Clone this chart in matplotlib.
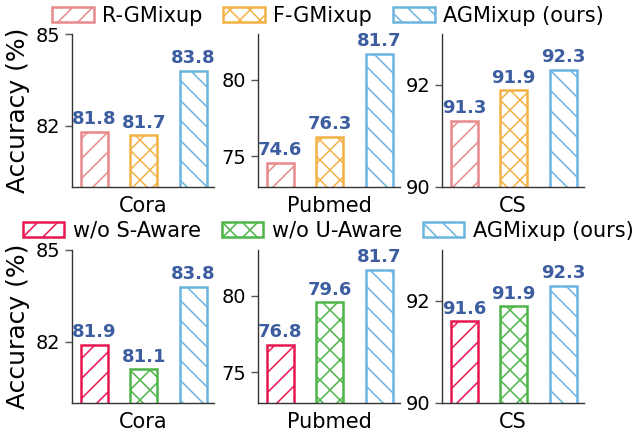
import matplotlib
matplotlib.use("Agg")
import matplotlib.pyplot as plt
import numpy as np

datasets = ["Cora", "Pubmed", "CS"]

top_methods = ["R-GMixup", "F-GMixup", "AGMixup (ours)"]
top_values = {
    "Cora": [81.8, 81.7, 83.8],
    "Pubmed": [74.6, 76.3, 81.7],
    "CS": [91.3, 91.9, 92.3],
}
bottom_methods = ["w/o S-Aware", "w/o U-Aware", "AGMixup (ours)"]
bottom_values = {
    "Cora": [81.9, 81.1, 83.8],
    "Pubmed": [76.8, 79.6, 81.7],
    "CS": [91.6, 91.9, 92.3],
}

ylims = {"Cora": (80, 85), "Pubmed": (73, 83), "CS": (90, 93)}
yticks = {"Cora": [82, 85], "Pubmed": [75, 80], "CS": [90, 92]}

top_colors = ["#E8898A", "#F2B245", "#6CB4DE"]
bottom_colors = ["#E8174F", "#4DB547", "#6CB4DE"]
hatches = ["//", "xx", "\\\\"]
label_color = "#3C5DA0"

# render at a higher dpi (hatch spacing scales with dpi); keep sizes equivalent
DPI = 120
k = 100 / DPI

plt.rcParams["font.family"] = ["DejaVu Sans"]
plt.rcParams["hatch.linewidth"] = 1.1 * k

W, H = 636, 432
fig = plt.figure(figsize=(W / DPI, H / DPI), dpi=DPI)

lefts = [72, 258, 442]
ax_w = 142
ax_h = 153
row_bottoms = [187, 403]
legend_y = [16, 231]

rows = [(top_methods, top_values, top_colors), (bottom_methods, bottom_values, bottom_colors)]

for r, (methods, values, colors) in enumerate(rows):
    handles = None
    for c, ds in enumerate(datasets):
        ax = fig.add_axes([lefts[c] / W, 1 - row_bottoms[r] / H, ax_w / W, ax_h / H])
        x = np.arange(len(methods))
        vals = values[ds]
        bars = []
        for i in range(len(methods)):
            b = ax.bar(x[i], vals[i], width=0.55, bottom=0, color="white",
                       edgecolor=colors[i], hatch=hatches[i], linewidth=1.8 * k,
                       label=methods[i])
            bars.append(b[0])
            ax.annotate(f"{vals[i]:.1f}", xy=(x[i], vals[i]), xytext=(0, 2.5 * k),
                        textcoords="offset points", ha="center", va="bottom",
                        fontsize=13 * k, fontweight="bold", color=label_color)
        ax.set_ylim(*ylims[ds])
        ax.set_yticks(yticks[ds])
        ax.set_xlim(-0.45, 2.42)
        ax.set_xticks([])
        ax.set_xlabel(ds, fontsize=15 * k, labelpad=6.5 * k)
        ax.tick_params(axis="y", labelsize=14 * k, length=5 * k, width=1 * k,
                       pad=3.5 * k, color="#555555")
        for s in ["top", "right"]:
            ax.spines[s].set_visible(False)
        for s in ["left", "bottom"]:
            ax.spines[s].set_color("#333333")
            ax.spines[s].set_linewidth(1.0 * k)
        if c == 0:
            ax.set_ylabel("Accuracy (%)", fontsize=18 * k, labelpad=4 * k)
        handles = bars
    fig.legend(handles, methods, loc="center", ncol=3, frameon=False,
               bbox_to_anchor=(328 / W, 1 - legend_y[r] / H), fontsize=15 * k,
               handlelength=2.0, handleheight=0.7, handletextpad=0.4,
               columnspacing=1.0, borderpad=0, borderaxespad=0)

fig.savefig("out.png", dpi=DPI)
